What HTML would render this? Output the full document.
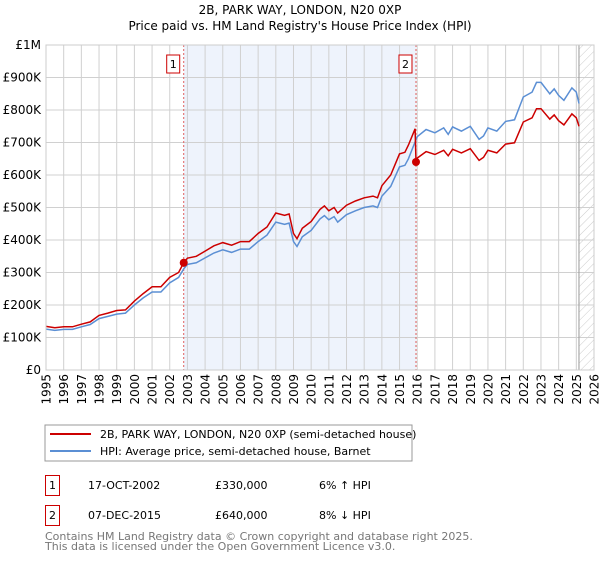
<!DOCTYPE html>
<html><head><meta charset="utf-8"><style>
body{margin:0;background:#fff;font-family:"DejaVu Sans","Liberation Sans",sans-serif;}
svg text{font-family:"DejaVu Sans","Liberation Sans",sans-serif;}
</style></head><body>
<svg width="600" height="560" xmlns="http://www.w3.org/2000/svg">
<defs><pattern id="hatch" width="6" height="6" patternUnits="userSpaceOnUse" patternTransform="rotate(45)"><line x1="0" y1="0" x2="0" y2="6" stroke="#ccc" stroke-width="1"/></pattern></defs>
<text x="300" y="14" text-anchor="middle" font-size="12">2B, PARK WAY, LONDON, N20 0XP</text>
<text x="300" y="30" text-anchor="middle" font-size="12">Price paid vs. HM Land Registry's House Price Index (HPI)</text>
<g id="plot"></g>
<rect x="45" y="425" width="367" height="36" fill="none" stroke="#999"/>
<line x1="50" y1="434" x2="91" y2="434" stroke="#cc0000" stroke-width="2"/>
<text x="100" y="438" font-size="11">2B, PARK WAY, LONDON, N20 0XP (semi-detached house)</text>
<line x1="50" y1="451" x2="91" y2="451" stroke="#5b8fd4" stroke-width="2"/>
<text x="100" y="455" font-size="11">HPI: Average price, semi-detached house, Barnet</text>
<g font-size="11">
<rect x="45.5" y="475.5" width="14" height="20" fill="none" stroke="#cc0000"/>
<text x="52.5" y="489" text-anchor="middle">1</text>
<text x="88" y="489">17-OCT-2002</text><text x="215" y="489">£330,000</text><text x="319" y="489">6% ↑ HPI</text></g>
<g font-size="11">
<rect x="45.5" y="505.5" width="14" height="20" fill="none" stroke="#cc0000"/>
<text x="52.5" y="519" text-anchor="middle">2</text>
<text x="88" y="519">07-DEC-2015</text><text x="215" y="519">£640,000</text><text x="319" y="519">8% ↓ HPI</text></g>
<text x="45" y="540" font-size="11" fill="#777">Contains HM Land Registry data © Crown copyright and database right 2025.</text>
<text x="45" y="550" font-size="11" fill="#777">This data is licensed under the Open Government Licence v3.0.</text>
</svg>
<script>
const hpiYears=[1995,1995.5,1996,1996.5,1997,1997.5,1998,1998.5,1999,1999.5,2000,2000.5,2001,2001.5,2002,2002.5,2002.8,2003,2003.5,2004,2004.5,2005,2005.5,2006,2006.5,2007,2007.5,2008,2008.5,2008.75,2009,2009.2,2009.5,2010,2010.5,2010.75,2011,2011.3,2011.5,2012,2012.5,2013,2013.5,2013.75,2014,2014.5,2015,2015.3,2015.5,2015.9,2016,2016.5,2017,2017.5,2017.75,2018,2018.5,2019,2019.5,2019.75,2020,2020.5,2021,2021.5,2022,2022.5,2022.75,2023,2023.5,2023.75,2024,2024.3,2024.75,2025,2025.15];
const hpiValues=[126,122,125,125,133,140,158,165,172,175,200,222,240,240,268,285,312,325,330,345,360,370,362,372,372,395,415,455,448,452,395,380,410,430,465,475,462,472,455,478,490,500,505,500,535,565,625,630,650,705,718,740,730,745,725,748,735,750,710,720,745,735,765,770,840,855,885,885,850,865,845,830,868,855,820];
const propYears=[1995,1995.5,1996,1996.5,1997,1997.5,1998,1998.5,1999,1999.5,2000,2000.5,2001,2001.5,2002,2002.5,2002.79,2003,2003.5,2004,2004.5,2005,2005.5,2006,2006.5,2007,2007.5,2008,2008.5,2008.75,2009,2009.2,2009.5,2010,2010.5,2010.75,2011,2011.3,2011.5,2012,2012.5,2013,2013.5,2013.75,2014,2014.5,2015,2015.3,2015.5,2015.88,2015.93,2016,2016.5,2017,2017.5,2017.75,2018,2018.5,2019,2019.5,2019.75,2020,2020.5,2021,2021.5,2022,2022.5,2022.75,2023,2023.5,2023.75,2024,2024.3,2024.75,2025,2025.15];
const propValues=[134,130,133,133,141,148,168,175,183,185,212,235,256,256,285,300,330,344,350,366,382,392,384,395,395,420,440,483,476,480,420,404,436,457,494,505,490,500,483,507,520,530,535,530,567,600,665,670,692,742,640,652,672,663,676,659,679,668,681,645,654,676,668,695,699,763,776,804,804,772,785,767,754,788,776,750];
const sales=[{year:2002.79,value:330,label:"1"},{year:2015.93,value:640,label:"2"}];
const yTicks=[0,100,200,300,400,500,600,700,800,900,1000];
const yTickLabels=["£0","£100K","£200K","£300K","£400K","£500K","£600K","£700K","£800K","£900K","£1M"];
const xTicks=[];for(let y=1995;y<=2026;y++)xTicks.push(y);
const X0=46,X1=594,Y0=370,Y1=45;
const xs=y=>X0+(y-1995)/(2026-1995)*(X1-X0);
const ys=v=>Y0-v/1000*(Y0-Y1);
const NS="http://www.w3.org/2000/svg";
const g=document.getElementById('plot');
function mk(t,a){const e=document.createElementNS(NS,t);for(const k in a)e.setAttribute(k,a[k]);g.appendChild(e);return e;}
let e=mk('rect',{x:xs(2002.79),y:Y1,width:xs(2015.93)-xs(2002.79),height:Y0-Y1,fill:'#eef3fc'});


e=mk('rect',{x:xs(2025.15),y:Y1,width:X1-xs(2025.15),height:Y0-Y1,fill:'url(#hatch)'});


xTicks.forEach(t=>{const l=mk('line',{x1:xs(t),x2:xs(t),y1:Y1,y2:Y0,stroke:'#d0d0d0'});


const tx=mk('text',{x:0,y:0,'text-anchor':'end','font-size':'12',transform:'translate('+(xs(t)+4.5)+',374) rotate(-90)'});tx.textContent=t;

});
yTicks.forEach((t,i)=>{const l=mk('line',{x1:X0,x2:X1,y1:ys(t),y2:ys(t),stroke:'#d0d0d0'});


const tx=mk('text',{x:41,y:ys(t)+4,'text-anchor':'end','font-size':'12'});tx.textContent=yTickLabels[i];

});
e=mk('line',{x1:xs(2025.15),x2:xs(2025.15),y1:Y1,y2:Y0,stroke:'#999'});


sales.forEach(s=>{const l=mk('line',{x1:xs(s.year),x2:xs(s.year),y1:Y1,y2:Y0,stroke:'#e06060','stroke-dasharray':'2,2'});


const r=mk('rect',{x:xs(s.year)-17,y:55,width:13,height:18,fill:'#fff',stroke:'#cc0000'});


const t=mk('text',{x:xs(s.year)-10.5,y:68,'text-anchor':'middle','font-size':'11'});t.textContent=s.label;

});
e=mk('path',{d:hpiYears.map((y,i)=>(i?'L':'M')+xs(y).toFixed(1)+','+ys(hpiValues[i]).toFixed(1)).join(''),fill:'none',stroke:'#5b8fd4','stroke-width':1.5});


e=mk('path',{d:propYears.map((y,i)=>(i?'L':'M')+xs(y).toFixed(1)+','+ys(propValues[i]).toFixed(1)).join(''),fill:'none',stroke:'#cc0000','stroke-width':1.5});


sales.forEach(s=>{const c=mk('circle',{cx:xs(s.year),cy:ys(s.value),r:4,fill:'#cc0000'});

});
e=mk('rect',{x:X0,y:Y1,width:X1-X0,height:Y0-Y1,fill:'none',stroke:'#ccc'});


</script>
</body></html>
